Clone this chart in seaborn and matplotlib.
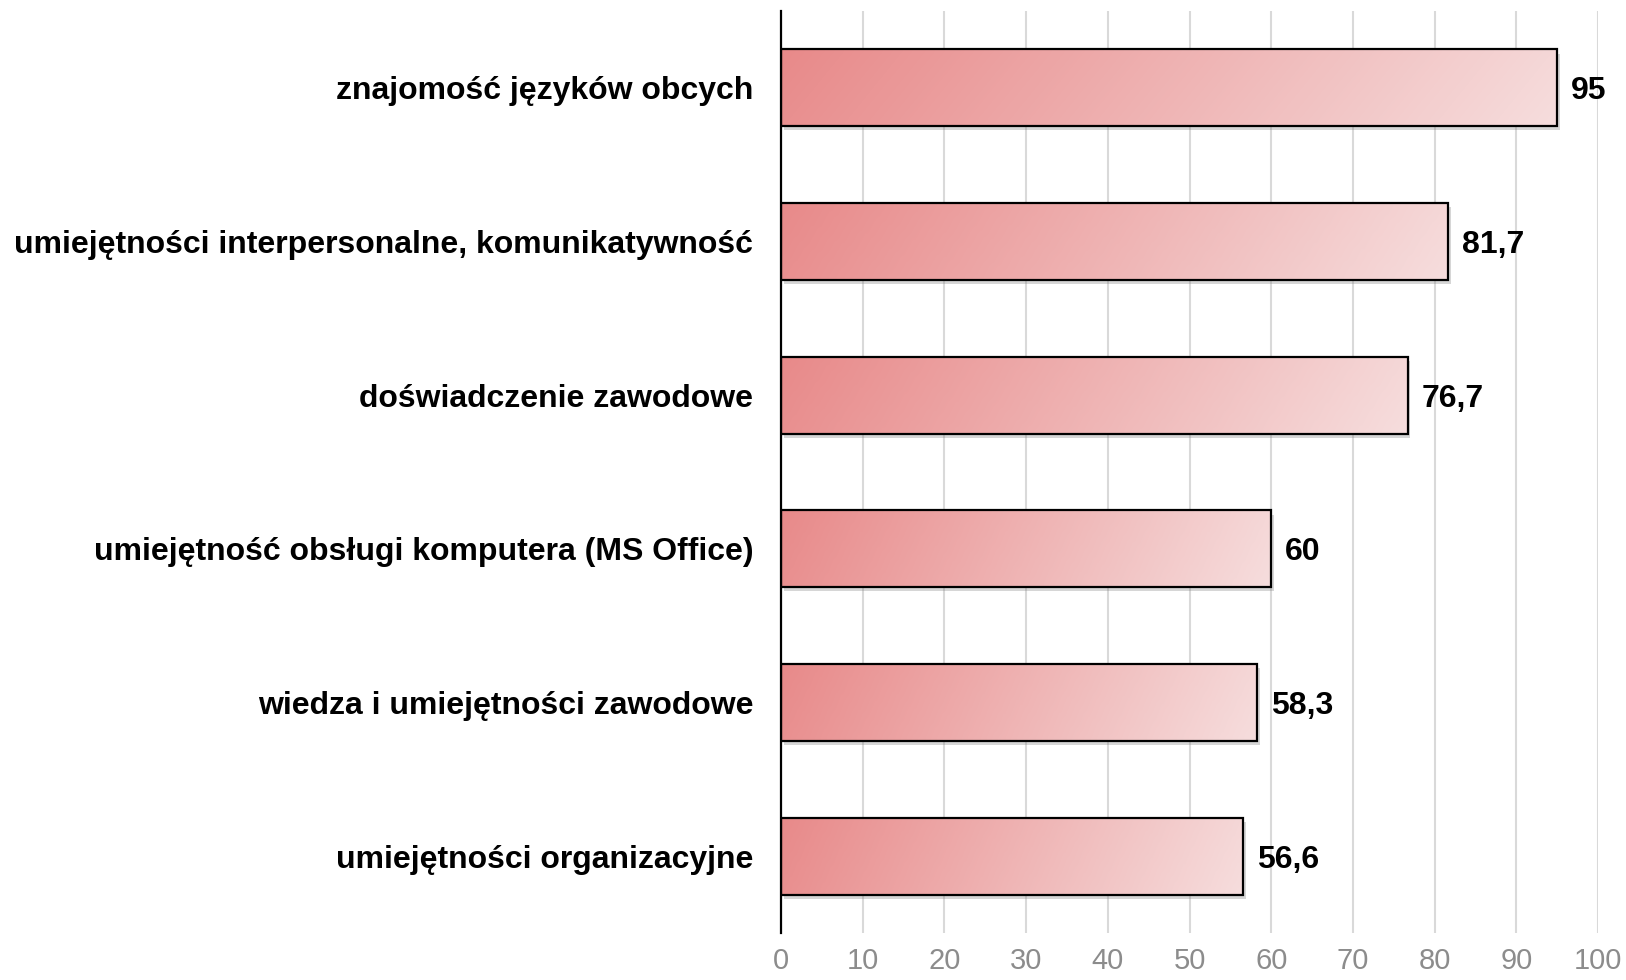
import numpy as np
import matplotlib.pyplot as plt
import matplotlib.transforms as mtransforms
from matplotlib.patches import Rectangle
from matplotlib.colors import LinearSegmentedColormap
import seaborn as sns

kategorie = [
    'znajomość języków obcych',
    'umiejętności interpersonalne, komunikatywność',
    'doświadczenie zawodowe',
    'umiejętność obsługi komputera (MS Office)',
    'wiedza i umiejętności zawodowe',
    'umiejętności organizacyjne',
]
wartosci = [95, 81.7, 76.7, 60, 58.3, 56.6]
etykiety = ['95', '81,7', '76,7', '60', '58,3', '56,6']
ticki = list(range(0, 101, 10))

sns.set_style('white')
plt.rcParams['font.family'] = ['Liberation Sans', 'DejaVu Sans']

fig = plt.figure(figsize=(16.26, 9.8), dpi=100)
ax = fig.add_axes([781 / 1626, 1 - 933 / 980, 817 / 1626, 922 / 980])

sns.barplot(x=wartosci, y=kategorie, orient='h', width=0.5, ax=ax)

# gradient w kazdym slupku
cmap = LinearSegmentedColormap.from_list('roz', ['#e88a8a', '#f6dddd'])
gx, gy = np.meshgrid(np.linspace(0, 1, 256), np.linspace(0, 1, 16))
grad = gx * 0.93 + gy * 0.07
sdw = mtransforms.ScaledTranslation(2 / 72, -3 / 72, fig.dpi_scale_trans)
for p in ax.patches:
    x0, y0, w, h = p.get_x(), p.get_y(), p.get_width(), p.get_height()
    p.set_facecolor('none')
    p.set_edgecolor('black')
    p.set_linewidth(1.6)
    p.set_zorder(4)
    cien = Rectangle((x0, y0), w, h, facecolor='#7a7a7a', alpha=0.3, edgecolor='none',
                     transform=ax.transData + sdw, zorder=2)
    ax.add_patch(cien)
    im = ax.imshow(grad, extent=[x0, x0 + w, y0 + h, y0], cmap=cmap, aspect='auto',
                   interpolation='bilinear', zorder=3)
    im.set_clip_path(p)

for i, (v, t) in enumerate(zip(wartosci, etykiety)):
    ax.annotate(t, (v, i), xytext=(10, 0), textcoords='offset points', va='center_baseline',
                ha='left', fontsize=23, fontweight='bold', color='black')

ax.set_xlim(0, 100)
ax.set_ylim(5.5, -0.5)
ax.set_xticks(ticki)
ax.xaxis.grid(True, color='#d9d9d9', linewidth=1.5)
ax.yaxis.grid(False)
ax.set_axisbelow(True)
for s in ['top', 'right', 'bottom']:
    ax.spines[s].set_visible(False)
ax.spines['left'].set_color('black')
ax.spines['left'].set_linewidth(1.6)
ax.spines['left'].set_zorder(5)
ax.tick_params(axis='x', length=0, pad=10, labelsize=21, labelcolor='#8c8c8c')
ax.tick_params(axis='y', length=0, pad=20, labelsize=23, labelcolor='black')
for lab in ax.get_yticklabels():
    lab.set_fontweight('bold')
ax.set_xlabel('')
ax.set_ylabel('')

fig.savefig('out.png', dpi=100)
